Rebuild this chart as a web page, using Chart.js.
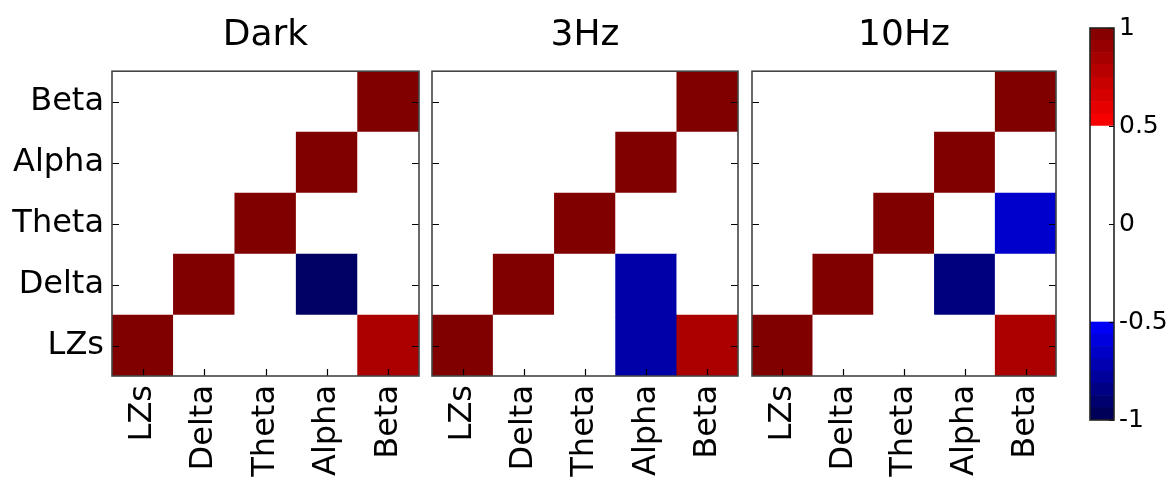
<!DOCTYPE html>
<html>
<head>
<meta charset="utf-8">
<script src="https://cdn.jsdelivr.net/npm/chart.js@4.4.0/dist/chart.umd.min.js"></script>
<style>
  body { margin: 0; background: #fff; }
  #wrap { position: relative; width: 1174px; height: 480px; }
  canvas { position: absolute; top: 0; }
</style>
</head>
<body>
<div id="wrap">
  <canvas id="pDark" width="424" height="480" style="left:0"></canvas>
  <canvas id="p3Hz" width="320" height="480" style="left:424px"></canvas>
  <canvas id="p10Hz" width="320" height="480" style="left:744px"></canvas>
  <canvas id="cbar" width="110" height="480" style="left:1064px"></canvas>
</div>
<script>
// ── Data ────────────────────────────────────────────────────────────────
const labels = ['LZs', 'Delta', 'Theta', 'Alpha', 'Beta'];

// rows go bottom (LZs) to top (Beta), columns left to right; 0 = not shown
const darkRows = [
    [1, 0, 0, 0, 0.83],
    [0, 1, 0, -0.93, 0],
    [0, 0, 1, 0, 0],
    [0, 0, 0, 1, 0],
    [0, 0, 0, 0, 1],
];
const hz3Rows = [
    [1, 0, 0, -0.74, 0.83],
    [0, 1, 0, -0.74, 0],
    [0, 0, 1, 0, 0],
    [0, 0, 0, 1, 0],
    [0, 0, 0, 0, 1],
];
const hz10Rows = [
    [1, 0, 0, 0, 0.83],
    [0, 1, 0, -0.86, 0],
    [0, 0, 1, 0, -0.64],
    [0, 0, 0, 1, 0],
    [0, 0, 0, 0, 1],
];

const cbarEdges = [-1, -0.9375, -0.875, -0.8125, -0.75, -0.6875, -0.625, -0.5625, -0.5,
                   0.5, 0.5625, 0.625, 0.6875, 0.75, 0.8125, 0.875, 0.9375, 1];
const cbarTicks = [-1, -0.5, 0, 0.5, 1];

const FONT = 'DejaVu Sans';

// ── Colour map (seismic, |v| < 0.5 masked white) ────────────────────────
function lerp(stops, t) {
    for (let i = 1; i < stops.length; i++) {
        if (t <= stops[i][0]) {
            const [t0, a] = stops[i - 1], [t1, b] = stops[i];
            return a + (b - a) * (t - t0) / (t1 - t0);
        }
    }
    return stops[stops.length - 1][1];
}
function cellColour(v) {
    if (Math.abs(v) < 0.5) return '#ffffff';
    const t = (v + 1) / 2;
    const r = lerp([[0, 0], [0.25, 0], [0.5, 1], [0.75, 1], [1, 0.5]], t);
    const g = lerp([[0, 0], [0.25, 0], [0.5, 1], [0.75, 0], [1, 0]], t);
    const b = lerp([[0, 0.3], [0.25, 1], [0.5, 1], [0.75, 0], [1, 0]], t);
    return `rgb(${Math.round(r * 255)},${Math.round(g * 255)},${Math.round(b * 255)})`;
}

// ── Frame + inward ticks, matplotlib style ──────────────────────────────
const frameTicks = {
    id: 'frameTicks',
    afterDatasetsDraw(chart, args, opts) {
        const { ctx, chartArea: a, scales } = chart;
        ctx.save();
        ctx.strokeStyle = '#000';
        ctx.lineWidth = 1.2;
        ctx.beginPath();
        if (opts.xTicks) {
            scales.x.ticks.forEach((t, i) => {
                const px = Math.round(scales.x.getPixelForTick(i)) + 0.5;
                ctx.moveTo(px, a.bottom); ctx.lineTo(px, a.bottom - 7);
            });
        }
        scales.y.ticks.forEach(t => {
            const py = Math.round(scales.y.getPixelForValue(t.value)) + 0.5;
            if (opts.leftTicks) { ctx.moveTo(a.left, py); ctx.lineTo(a.left + 7, py); }
            ctx.moveTo(a.right, py); ctx.lineTo(a.right - (opts.tickLen || 7), py);
        });
        ctx.stroke();
        ctx.strokeStyle = opts.frameColour || '#444';
        ctx.lineWidth = 1.6;
        ctx.strokeRect(a.left, a.top, a.right - a.left, a.bottom - a.top);
        ctx.restore();
    }
};

function heatDatasets(rows) {
    return rows.map((row, r) => ({
        data: row.map((v, c) => ({ x: labels[c], y: [r - 0.5, r + 0.5] })),
        backgroundColor: row.map(cellColour),
        borderWidth: 0,
        grouped: false,
        barPercentage: 1,
        categoryPercentage: 1,
    }));
}

function makePanel(id, title, rows, showY, yWidth, padRight) {
    new Chart(document.getElementById(id), {
        type: 'bar',
        data: { labels: labels, datasets: heatDatasets(rows) },
        plugins: [frameTicks],
        options: {
            responsive: false,
            animation: false,
            events: [],
            layout: { autoPadding: false, padding: { left: 0, right: padRight, top: 0, bottom: 0 } },
            plugins: {
                legend: { display: false },
                tooltip: { enabled: false },
                title: {
                    display: true,
                    text: title,
                    color: '#000',
                    fullSize: false,
                    font: { family: FONT, size: 36, weight: 'normal' },
                    padding: { top: 14, bottom: 14 },
                },
                frameTicks: { xTicks: true, leftTicks: true },
            },
            scales: {
                x: {
                    type: 'category',
                    grid: { display: false, drawTicks: false },
                    border: { display: false },
                    ticks: {
                        color: '#000',
                        font: { family: FONT, size: 32 },
                        minRotation: 90,
                        maxRotation: 90,
                        autoSkip: false,
                        padding: 9,
                    },
                    afterFit: s => { s.height = 104; s.paddingLeft = 0; s.paddingRight = 0; },
                },
                y: {
                    type: 'linear',
                    min: -0.5,
                    max: 4.5,
                    grid: { display: false, drawTicks: false },
                    border: { display: false },
                    afterBuildTicks: s => { s.ticks = labels.map((l, i) => ({ value: i })); },
                    ticks: {
                        display: showY,
                        color: '#000',
                        font: { family: FONT, size: 32 },
                        padding: 8,
                        callback: v => labels[v],
                    },
                    afterFit: s => { s.width = yWidth; s.paddingTop = 0; s.paddingBottom = 0; },
                },
            },
        },
    });
}

makePanel('pDark', 'Dark', darkRows, true, 112, 5);
makePanel('p3Hz', '3Hz', hz3Rows, false, 8, 6);
makePanel('p10Hz', '10Hz', hz10Rows, false, 8, 8);

// ── Colour bar ─────────────────────────────────────────────────────────
const cbarSets = [];
for (let i = 1; i < cbarEdges.length; i++) {
    const lo = cbarEdges[i - 1], hi = cbarEdges[i];
    cbarSets.push({
        data: [{ x: '', y: [lo, hi] }],
        backgroundColor: cellColour((lo + hi) / 2),
        borderWidth: 0,
        grouped: false,
        barPercentage: 1,
        categoryPercentage: 1,
    });
}

new Chart(document.getElementById('cbar'), {
    type: 'bar',
    data: { labels: [''], datasets: cbarSets },
    plugins: [frameTicks],
    options: {
        responsive: false,
        animation: false,
        events: [],
        layout: { autoPadding: false, padding: { left: 26, right: 0, top: 28, bottom: 60 } },
        plugins: {
            legend: { display: false },
            tooltip: { enabled: false },
            frameTicks: { xTicks: false, leftTicks: false, tickLen: 5, frameColour: '#222' },
        },
        scales: {
            x: { display: false },
            y: {
                type: 'linear',
                position: 'right',
                min: -1,
                max: 1,
                grid: { display: false, drawTicks: false },
                border: { display: false },
                afterBuildTicks: s => { s.ticks = cbarTicks.map(v => ({ value: v })); },
                ticks: {
                    color: '#000',
                    font: { family: FONT, size: 25 },
                    padding: 5,
                    callback: v => String(v),
                },
                afterFit: s => { s.width = 60; },
            },
        },
    },
});
</script>
</body>
</html>
